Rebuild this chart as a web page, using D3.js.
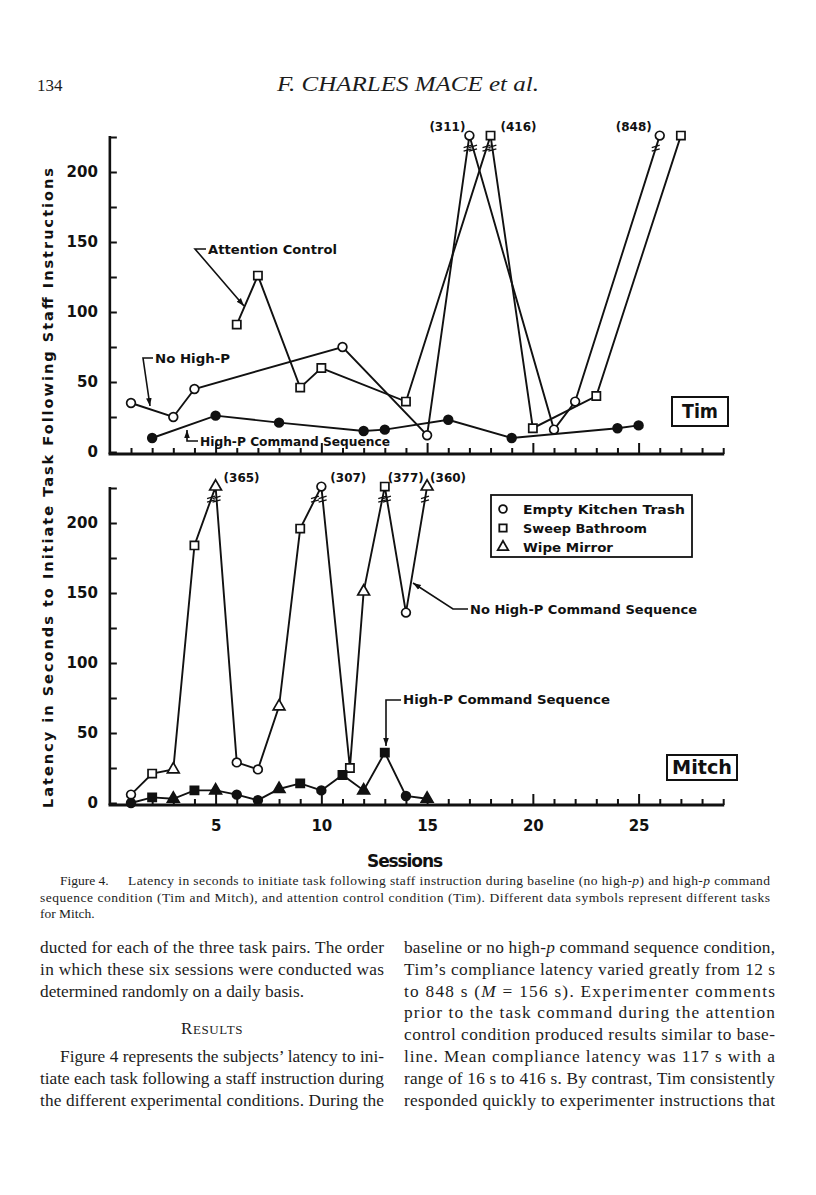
<!DOCTYPE html>
<html>
<head>
<meta charset="utf-8">
<script src="https://cdn.jsdelivr.net/npm/d3@7"></script>
<style>
  body { margin: 0; background: #fff; }
  svg { display: block; }
  .lettering { font-family: "DejaVu Sans", sans-serif; font-weight: bold; fill: #111; }
  .serif { font-family: "Liberation Serif", "DejaVu Serif", serif; fill: #1c1c1c; }
</style>
</head>
<body>
<svg id="page"></svg>
<script>
// values
const sessionTicks = d3.range(1, 30);
const xTickLabels = [5, 10, 15, 20, 25];
const yTickValues = [0, 25, 50, 75, 100, 125, 150, 175, 200, 225];
const yTickLabels = [0, 50, 100, 150, 200];
const yCap = 226;      // top of the drawn axis, bigger values are broken off
const breakAt = 217;   // where the break marks sit

// Tim
const timCircleSessions = [1, 3, 4, 11, 15, 17, 21, 22, 26];
const timCircleLatency  = [35, 25, 45, 75, 12, 311, 16, 36, 848];
const timSquareSessions = [6, 7, 9, 10, 14, 18, 20, 23, 27];
const timSquareLatency  = [91, 126, 46, 60, 36, 416, 17, 40, 226];
const timHighPSessions  = [2, 5, 8, 12, 13, 16, 19, 24, 25];
const timHighPLatency   = [10, 26, 21, 15, 16, 23, 10, 17, 19];

// Mitch
const mitchSessions = d3.range(1, 16);
const mitchTasks = ["trash", "sweep", "mirror", "sweep", "mirror", "trash", "trash", "mirror",
                    "sweep", "trash", "sweep", "mirror", "sweep", "trash", "mirror"];
const mitchNoHighPLatency = [6, 21, 24, 184, 365, 29, 24, 69, 196, 307, 25, 151, 377, 136, 360];
const mitchHighPLatency   = [0, 4, 3, 9, 9, 6, 2, 10, 14, 9, 20, 9, 36, 5, 3];

const legendTasks = ["trash", "sweep", "mirror"];
const legendNames = ["Empty Kitchen Trash", "Sweep Bathroom", "Wipe Mirror"];

// page text
const captionLine1 = "Latency in seconds to initiate task following staff instruction during baseline (no high-*p*) and high-*p* command";
const captionLine2 = "sequence condition (Tim and Mitch), and attention control condition (Tim). Different data symbols represent different tasks";
const captionLine3 = "for Mitch.";
const leftColumn = [
  { row: 0, text: "ducted for each of the three task pairs. The order", justify: true },
  { row: 1, text: "in which these six sessions were conducted was", justify: true },
  { row: 2, text: "determined randomly on a daily basis.", justify: false },
  { row: 5, text: "Figure 4 represents the subjects\u2019 latency to ini-", justify: true, indent: 20 },
  { row: 6, text: "tiate each task following a staff instruction during", justify: true },
  { row: 7, text: "the different experimental conditions. During the", justify: true }
];
const rightColumn = [
  "baseline or no high-*p* command sequence condition,",
  "Tim\u2019s compliance latency varied greatly from 12 s",
  "to 848 s (*M* = 156 s). Experimenter comments",
  "prior to the task command during the attention",
  "control condition produced results similar to base-",
  "line. Mean compliance latency was 117 s with a",
  "range of 16 s to 416 s. By contrast, Tim consistently",
  "responded quickly to experimenter instructions that"
];

const svg = d3.select("#page").attr("width", 816).attr("height", 1195);
svg.append("rect").attr("width", 816).attr("height", 1195).attr("fill", "#fff");

svg.append("defs").append("marker")
    .attr("id", "arrow")
    .attr("viewBox", "0 0 10 10")
    .attr("refX", 10).attr("refY", 5)
    .attr("markerWidth", 8).attr("markerHeight", 8)
    .attr("markerUnits", "userSpaceOnUse")
    .attr("orient", "auto")
  .append("path")
    .attr("d", "M0,1.5L10,5L0,8.5Z")
    .attr("fill", "#111");

const x = d3.scaleLinear().domain([0, 29]).range([109.85, 723.2]);
const yTim = d3.scaleLinear().domain([0, yCap]).range([452, 135.6]);
const yMitch = d3.scaleLinear().domain([0, yCap]).range([803, 486.6]);

const symbolType = { trash: d3.symbolCircle, sweep: d3.symbolSquare, mirror: d3.symbolTriangle };
const symbolSize = { trash: 60, sweep: 68, mirror: 60 };
const symbol = d3.symbol();

function richText(sel, str) {
  str.split("*").forEach((part, i) => {
    if (!part) return;
    sel.append("tspan").attr("font-style", i % 2 ? "italic" : null).text(part);
  });
}

function drawAxes(y, withLabels) {
  const base = y(0) + 2;

  const gy = svg.append("g")
      .attr("transform", `translate(${x(0)},0)`)
      .call(d3.axisLeft(y)
        .tickValues(yTickValues)
        .tickSizeInner(-7)
        .tickSizeOuter(0)
        .tickPadding(12)
        .tickFormat(d => yTickLabels.includes(d) ? d : ""));
  gy.attr("font-family", "DejaVu Sans, sans-serif").attr("font-size", 15).attr("font-weight", "bold");
  gy.select(".domain").remove();
  gy.selectAll(".tick line").attr("stroke", "#111").attr("stroke-width", 2);
  gy.selectAll(".tick text").attr("fill", "#111");

  svg.append("line")
      .attr("x1", x(0)).attr("x2", x(0))
      .attr("y1", y(225) - 1).attr("y2", base)
      .attr("stroke", "#111").attr("stroke-width", 2.6);

  const gx = svg.append("g")
      .attr("transform", `translate(0,${base})`)
      .call(d3.axisBottom(x)
        .tickValues(sessionTicks)
        .tickSizeInner(-6)
        .tickSizeOuter(0)
        .tickPadding(15)
        .tickFormat(d => withLabels && xTickLabels.includes(d) ? d : ""));
  gx.attr("font-family", "DejaVu Sans, sans-serif").attr("font-size", 15).attr("font-weight", "bold");
  gx.select(".domain").remove();
  gx.selectAll(".tick line")
      .attr("stroke", "#111").attr("stroke-width", 2)
      .attr("y2", d => d % 5 === 0 ? -11 : -6);
  gx.selectAll(".tick text").attr("fill", "#111");

  svg.append("line")
      .attr("x1", x(0) - 1.3).attr("x2", x(29) + 1)
      .attr("y1", base).attr("y2", base)
      .attr("stroke", "#111").attr("stroke-width", 3);
}

function drawSeries(y, sessions, values, tasks, filled, labelDx, sessionShift) {
  const pts = sessions.map((s, i) => ({
    s, v: values[i], task: tasks[i],
    px: x(s + (sessionShift ? sessionShift(s) : 0)),
    py: y(Math.min(values[i], yCap))
  }));

  svg.append("path")
      .datum(pts)
      .attr("d", d3.line().x(d => d.px).y(d => d.py))
      .attr("fill", "none")
      .attr("stroke", "#111")
      .attr("stroke-width", 1.9);

  // broken-off values: marks on the segments and the true value in brackets
  pts.forEach((p, i) => {
    if (p.v <= yCap) return;
    [pts[i - 1], pts[i + 1]].filter(Boolean).forEach(q => {
      const yb = y(breakAt);
      const t = (yb - q.py) / (p.py - q.py);
      const bx = q.px + t * (p.px - q.px);
      [-1.8, 1.8].forEach(o => {
        svg.append("line")
            .attr("x1", bx - 4).attr("y1", yb + o + 1.2)
            .attr("x2", bx + 4).attr("y2", yb + o - 1.2)
            .attr("stroke", "#111").attr("stroke-width", 1.4);
      });
    });
    svg.append("text")
        .attr("class", "lettering")
        .attr("x", p.px + labelDx(p.s))
        .attr("y", p.py - 9)
        .attr("dy", "0.35em")
        .attr("text-anchor", "middle")
        .attr("font-size", 12.5)
        .attr("textLength", 36)
        .attr("lengthAdjust", "spacingAndGlyphs")
        .text(`(${p.v})`);
  });

  svg.selectAll(null)
    .data(pts)
    .join("path")
      .attr("transform", d => `translate(${d.px},${d.py})`)
      .attr("d", d => symbol.type(symbolType[d.task]).size(symbolSize[d.task])())
      .attr("fill", filled ? "#111" : "#fff")
      .attr("stroke", "#111")
      .attr("stroke-width", 1.7);
}

function leader(points, tx, ty, label, width, size) {
  svg.append("path")
      .attr("d", d3.line()(points))
      .attr("fill", "none")
      .attr("stroke", "#111")
      .attr("stroke-width", 1.6)
      .attr("marker-end", "url(#arrow)");
  svg.append("text")
      .attr("class", "lettering")
      .attr("x", tx).attr("y", ty)
      .attr("dy", "0.35em")
      .attr("font-size", size || 12.5)
      .attr("textLength", width)
      .attr("lengthAdjust", "spacingAndGlyphs")
      .text(label);
}

function nameBox(x0, y0, w, h, label, textW) {
  svg.append("rect")
      .attr("x", x0).attr("y", y0).attr("width", w).attr("height", h)
      .attr("fill", "#fff").attr("stroke", "#111").attr("stroke-width", 2);
  svg.append("text")
      .attr("class", "lettering")
      .attr("x", x0 + w / 2).attr("y", y0 + h / 2)
      .attr("dy", "0.36em")
      .attr("text-anchor", "middle")
      .attr("font-size", 19)
      .attr("textLength", textW)
      .attr("lengthAdjust", "spacingAndGlyphs")
      .text(label);
}

// ---- Tim ----
drawAxes(yTim, false);
const timDx = { 17: -22, 18: 28, 26: -26 };
drawSeries(yTim, timCircleSessions, timCircleLatency, timCircleSessions.map(() => "trash"), false, s => timDx[s]);
drawSeries(yTim, timSquareSessions, timSquareLatency, timSquareSessions.map(() => "sweep"), false, s => timDx[s]);
drawSeries(yTim, timHighPSessions, timHighPLatency, timHighPSessions.map(() => "trash"), true, s => 0);

leader([[206, 249], [195, 249], [244, 306]], 208, 250, "Attention Control", 129);
leader([[153, 358], [143, 358], [150, 406]], 155, 359, "No High-P", 75);
leader([[198, 441], [187, 441], [187, 430]], 200, 442, "High-P Command Sequence", 190);
nameBox(672, 397, 56, 29, "Tim", 36);

// ---- Mitch ----
drawAxes(yMitch, true);
const mitchDx = { 5: 26, 10: 27, 13: 21, 15: 21 };
drawSeries(yMitch, mitchSessions, mitchNoHighPLatency, mitchTasks, false, s => mitchDx[s], s => s === 11 ? 0.35 : 0);
drawSeries(yMitch, mitchSessions, mitchHighPLatency, mitchTasks, true, s => 0);

leader([[468, 609], [453, 609], [413, 583]], 470, 610, "No High-P Command Sequence", 227);
leader([[401, 700], [386, 700], [386, 746]], 403, 700, "High-P Command Sequence", 207);
nameBox(667, 755, 70, 25, "Mitch", 60);

// legend
svg.append("rect")
    .attr("x", 491).attr("y", 495).attr("width", 201).attr("height", 62)
    .attr("fill", "#fff").attr("stroke", "#111").attr("stroke-width", 1.8);
const legendWidths = [162, 124, 90];
legendTasks.forEach((t, i) => {
  const ly = 509 + i * 19;
  svg.append("path")
      .attr("transform", `translate(503,${ly})`)
      .attr("d", symbol.type(symbolType[t]).size(symbolSize[t] * 0.8)())
      .attr("fill", "#fff").attr("stroke", "#111").attr("stroke-width", 1.8);
  svg.append("text")
      .attr("class", "lettering")
      .attr("x", 523).attr("y", ly)
      .attr("dy", "0.36em")
      .attr("font-size", 12.5)
      .attr("textLength", legendWidths[i])
      .attr("lengthAdjust", "spacingAndGlyphs")
      .text(legendNames[i]);
});

// axis titles
svg.append("text")
    .attr("class", "lettering")
    .attr("transform", "translate(48,488) rotate(-90)")
    .attr("dy", "0.36em")
    .attr("text-anchor", "middle")
    .attr("font-size", 14.5)
    .attr("textLength", 640)
    .attr("lengthAdjust", "spacing")
    .text("Latency in Seconds to Initiate Task Following Staff Instructions");

svg.append("text")
    .attr("class", "lettering")
    .attr("x", 405).attr("y", 861)
    .attr("dy", "0.36em")
    .attr("text-anchor", "middle")
    .attr("font-size", 17)
    .attr("textLength", 76)
    .attr("lengthAdjust", "spacing")
    .text("Sessions");

// ---- page header ----
svg.append("text").attr("class", "serif")
    .attr("x", 37).attr("y", 91).attr("font-size", 17).text("134");
svg.append("text").attr("class", "serif")
    .attr("x", 408).attr("y", 91).attr("text-anchor", "middle")
    .attr("font-size", 21).attr("font-style", "italic")
    .attr("textLength", 262).attr("lengthAdjust", "spacingAndGlyphs")
    .text("F. CHARLES MACE et al.");

// ---- caption ----
svg.append("text").attr("class", "serif")
    .attr("x", 60).attr("y", 885).attr("font-size", 13.5).text("Figure 4.");
const cap1 = svg.append("text").attr("class", "serif")
    .attr("x", 128).attr("y", 885).attr("font-size", 13.5)
    .attr("textLength", 642).attr("lengthAdjust", "spacing");
richText(cap1, captionLine1);
svg.append("text").attr("class", "serif")
    .attr("x", 40).attr("y", 901.5).attr("font-size", 13.5)
    .attr("textLength", 730).attr("lengthAdjust", "spacing")
    .text(captionLine2);
svg.append("text").attr("class", "serif")
    .attr("x", 40).attr("y", 918).attr("font-size", 13.5).text(captionLine3);

// ---- body columns ----
const bodyTop = 953, lineStep = 21.8, bodySize = 17.3;
const leftX0 = 40, leftX1 = 384, rightX0 = 404, rightX1 = 775;

leftColumn.forEach(l => {
  const x0 = leftX0 + (l.indent || 0);
  const t = svg.append("text").attr("class", "serif")
      .attr("x", x0).attr("y", bodyTop + l.row * lineStep)
      .attr("font-size", bodySize);
  if (l.justify) t.attr("textLength", leftX1 - x0).attr("lengthAdjust", "spacing");
  richText(t, l.text);
});

const results = svg.append("text").attr("class", "serif")
    .attr("x", (leftX0 + leftX1) / 2).attr("y", bodyTop + 3.7 * lineStep)
    .attr("text-anchor", "middle")
    .attr("letter-spacing", 0.6);
results.append("tspan").attr("font-size", 17).text("R");
results.append("tspan").attr("font-size", 13).text("ESULTS");

rightColumn.forEach((line, i) => {
  const t = svg.append("text").attr("class", "serif")
      .attr("x", rightX0).attr("y", bodyTop + i * lineStep)
      .attr("font-size", bodySize)
      .attr("textLength", rightX1 - rightX0)
      .attr("lengthAdjust", "spacing");
  richText(t, line);
});
</script>
</body>
</html>
